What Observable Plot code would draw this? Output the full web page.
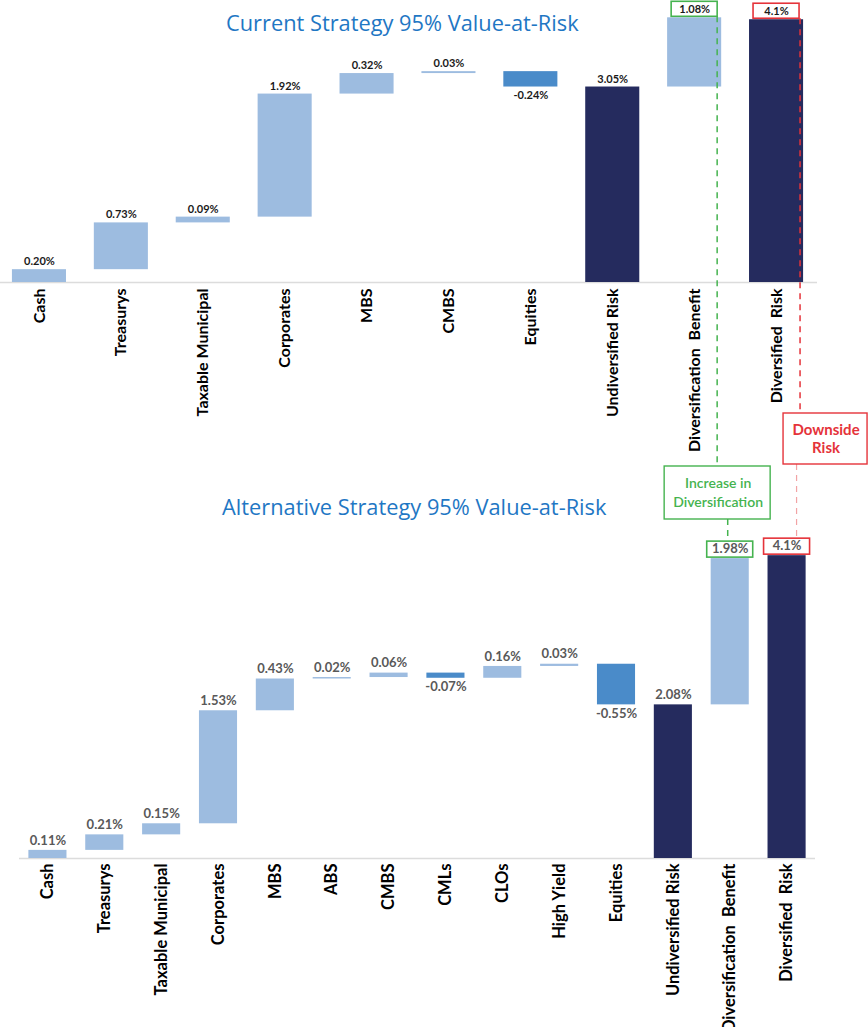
<!DOCTYPE html>
<html>
<head>
<meta charset="utf-8">
<script src="https://cdn.jsdelivr.net/npm/d3@7"></script>
<script src="https://cdn.jsdelivr.net/npm/@observablehq/plot@0.6"></script>
<style>
  html, body { margin: 0; padding: 0; background: #fff; }
  #root { position: relative; width: 868px; height: 1027px; overflow: hidden; background: #fff; }
  .title { position: absolute; font-family: "Open Sans", sans-serif; font-size: 21.8px; color: #1f77c4; white-space: nowrap; line-height: 1; }
  #root svg { position: absolute; left: 0; overflow: visible; }
  g[aria-label="x-axis tick label"] text { font-weight: bold; }
</style>
</head>
<body>
<div id="root"></div>
<script>
// ---------- Data ----------
const currentCategories = ["Cash", "Treasurys", "Taxable Municipal", "Corporates", "MBS", "CMBS", "Equities", "Undiversified Risk", "Diversification  Benefit", "Diversified  Risk"];
const currentValues = [0.20, 0.73, 0.09, 1.92, 0.32, 0.03, -0.24, 3.05, 1.08, 4.1];
const currentLabels = ["0.20%", "0.73%", "0.09%", "1.92%", "0.32%", "0.03%", "-0.24%", "3.05%", "1.08%", "4.1%"];
const currentKinds = ["step", "step", "step", "step", "step", "step", "step", "total", "benefit", "total"];

const altCategories = ["Cash", "Treasurys", "Taxable Municipal", "Corporates", "MBS", "ABS", "CMBS", "CMLs", "CLOs", "High Yield", "Equities", "Undiversified Risk", "Diversification  Benefit", "Diversified  Risk"];
const altValues = [0.11, 0.21, 0.15, 1.53, 0.43, 0.02, 0.06, -0.07, 0.16, 0.03, -0.55, 2.08, 1.98, 4.1];
const altLabels = ["0.11%", "0.21%", "0.15%", "1.53%", "0.43%", "0.02%", "0.06%", "-0.07%", "0.16%", "0.03%", "-0.55%", "2.08%", "1.98%", "4.1%"];
const altKinds = ["step", "step", "step", "step", "step", "step", "step", "step", "step", "step", "step", "total", "benefit", "total"];

const titles = ["Current Strategy 95% Value-at-Risk", "Alternative Strategy 95% Value-at-Risk"];
const annotationTexts = [["Increase in", "Diversification"], ["Downside", "Risk"]];
const boxedCategories = ["Diversification  Benefit", "Diversified  Risk"];

// ---------- Styles ----------
const LIGHT = "#9dbce0", NEG = "#4a8bc9", NAVY = "#252b5e";
const GREEN = "#45b34f", RED = "#e5333a", PINK = "#f2a3a5";
const FONT = "Lato, 'Open Sans', sans-serif";

function buildRows(categories, values, labels, kinds) {
  let run = 0, lastTotal = 0;
  return categories.map((cat, i) => {
    const v = values[i], k = kinds[i];
    let y1, y2;
    if (k === "step") { y1 = run; y2 = run + v; run = y2; }
    else if (k === "total") { y1 = 0; y2 = v; lastTotal = v; }
    else { y1 = lastTotal; y2 = lastTotal + v; }
    const fill = k === "total" ? NAVY : (v < 0 ? NEG : LIGHT);
    return {cat, v, y1, y2, top: Math.max(y1, y2), bottom: Math.min(y1, y2), label: labels[i], kind: k, fill};
  });
}

const currentRows = buildRows(currentCategories, currentValues, currentLabels, currentKinds);
const altRows = buildRows(altCategories, altValues, altLabels, altKinds);

function makeChart(rows, o) {
  return Plot.plot({
    width: 868,
    height: o.height,
    marginTop: o.marginTop,
    marginBottom: o.marginBottom,
    marginLeft: o.marginLeft,
    marginRight: o.marginRight,
    x: {domain: rows.map(d => d.cat), range: o.xRange, paddingInner: o.pad, paddingOuter: o.pad / 2, round: false, label: null},
    y: {domain: [0, 4.4], axis: null},
    style: {background: "transparent", overflow: "visible"},
    marks: [
      Plot.ruleY([0], {stroke: "#dcdcdc", strokeWidth: 1.5}),
      Plot.barY(rows, {x: "cat", y1: "y1", y2: "y2", fill: "fill"}),
      Plot.text(rows.filter(d => d.v >= 0), {x: "cat", y: "top", text: "label", dy: o.labelUp, fontSize: o.labelSize, fontWeight: "bold", fill: o.labelColor, fontFamily: FONT}),
      Plot.text(rows.filter(d => d.v < 0), {x: "cat", y: "bottom", text: "label", dy: o.labelDown, fontSize: o.labelSize, fontWeight: "bold", fill: o.labelColor, fontFamily: FONT}),
      Plot.axisX({tickRotate: -90, tickSize: 0, tickPadding: o.tickPadding, fontSize: o.tickSize, fontWeight: "bold", color: "#000", fontFamily: FONT, label: null})
    ]
  });
}

const root = document.getElementById("root");

// titles
const t1 = document.createElement("div");
t1.className = "title"; t1.textContent = titles[0];
t1.style.left = "226px"; t1.style.top = "12px";
root.appendChild(t1);
const t2 = document.createElement("div");
t2.className = "title"; t2.textContent = titles[1];
t2.style.left = "222px"; t2.style.top = "496px";
root.appendChild(t2);

const topChart = makeChart(currentRows, {
  height: 430, marginTop: 0, marginBottom: 148, marginLeft: 0, marginRight: 51,
  xRange: [-2, 817], pad: 0.34, labelUp: -8, labelDown: 8, labelSize: 11, labelColor: "#1a1a1a",
  tickPadding: 6, tickSize: 16
});
topChart.style.top = "0px";
root.appendChild(topChart);

const BOTTOM_TOP = 530;
const bottomChart = makeChart(altRows, {
  height: 497, marginTop: 3, marginBottom: 169, marginLeft: 19, marginRight: 53,
  xRange: [19, 815], pad: 0.33, labelUp: -10, labelDown: 9, labelSize: 13, labelColor: "#595959",
  tickPadding: 5, tickSize: 16.5
});
bottomChart.style.top = BOTTOM_TOP + "px";
root.appendChild(bottomChart);

// ---------- Annotation overlay (positions derived from the plots' scales) ----------
const xT = topChart.scale("x"), yT = topChart.scale("y");
const xB = bottomChart.scale("x"), yB = bottomChart.scale("y");
const cx = (sx, cat) => sx.apply(cat) + sx.bandwidth / 2;
const rowOf = (rows, cat) => rows.find(d => d.cat === cat);

const svg = d3.select(root).append("svg")
  .attr("width", 868).attr("height", 1027)
  .style("top", "0px").style("pointer-events", "none");

function valueBox(x, yTopPx, color, h) {
  svg.append("rect").attr("x", x - 23).attr("y", yTopPx - h - 1).attr("width", 46).attr("height", h)
    .attr("fill", "none").attr("stroke", color).attr("stroke-width", 1.6);
}

// top boxes
const tBen = rowOf(currentRows, boxedCategories[0]), tDiv = rowOf(currentRows, boxedCategories[1]);
const tBenX = cx(xT, tBen.cat), tDivX = cx(xT, tDiv.cat);
const tBenY = yT.apply(tBen.top), tDivY = yT.apply(tDiv.top);
valueBox(tBenX, tBenY, GREEN, 15);
valueBox(tDivX, tDivY, RED, 15);

// bottom boxes
const bBen = rowOf(altRows, boxedCategories[0]), bDiv = rowOf(altRows, boxedCategories[1]);
const bBenX = cx(xB, bBen.cat), bDivX = cx(xB, bDiv.cat);
const bBenY = yB.apply(bBen.top) + BOTTOM_TOP, bDivY = yB.apply(bDiv.top) + BOTTOM_TOP;
valueBox(bBenX, bBenY, GREEN, 16);
valueBox(bDivX, bDivY, RED, 16);

// annotation boxes
const greenX = tBenX + 23, redX = tDivX + 24;
const incBox = {x: greenX - 53, y: 466, w: 106, h: 53};
const downBox = {x: redX - 17, y: 413, w: 84, h: 51};

function dashed(x1, y1, x2, y2, color, w) {
  svg.append("line").attr("x1", x1).attr("y1", y1).attr("x2", x2).attr("y2", y2)
    .attr("stroke", color).attr("stroke-width", w).attr("stroke-dasharray", "6,5");
}
dashed(greenX, tBenY - 1, greenX, incBox.y, GREEN, 1.5);
dashed(redX, tDivY - 1, redX, downBox.y, RED, 1.5);
dashed(bBenX - 2, incBox.y + incBox.h, bBenX - 2, bBenY - 17, GREEN, 1.5);
dashed(bDivX + 10, downBox.y + downBox.h, bDivX + 10, bDivY - 17, PINK, 1.2);

function noteBox(b, color, lines, fs, lh, fw) {
  svg.append("rect").attr("x", b.x).attr("y", b.y).attr("width", b.w).attr("height", b.h)
    .attr("fill", "#fff").attr("stroke", color).attr("stroke-width", 1.4);
  const cyy = b.y + b.h / 2;
  lines.forEach((s, i) => {
    svg.append("text").attr("x", b.x + b.w / 2 + 1).attr("y", cyy + (i - (lines.length - 1) / 2) * lh)
      .attr("dy", "0.35em").attr("text-anchor", "middle")
      .attr("font-family", FONT).attr("font-size", fs).attr("font-weight", fw).attr("fill", color)
      .text(s);
  });
}
noteBox(incBox, GREEN, annotationTexts[0], 14, 19, 600);
noteBox(downBox, RED, annotationTexts[1], 15, 17.5, "bold");
</script>
</body>
</html>
